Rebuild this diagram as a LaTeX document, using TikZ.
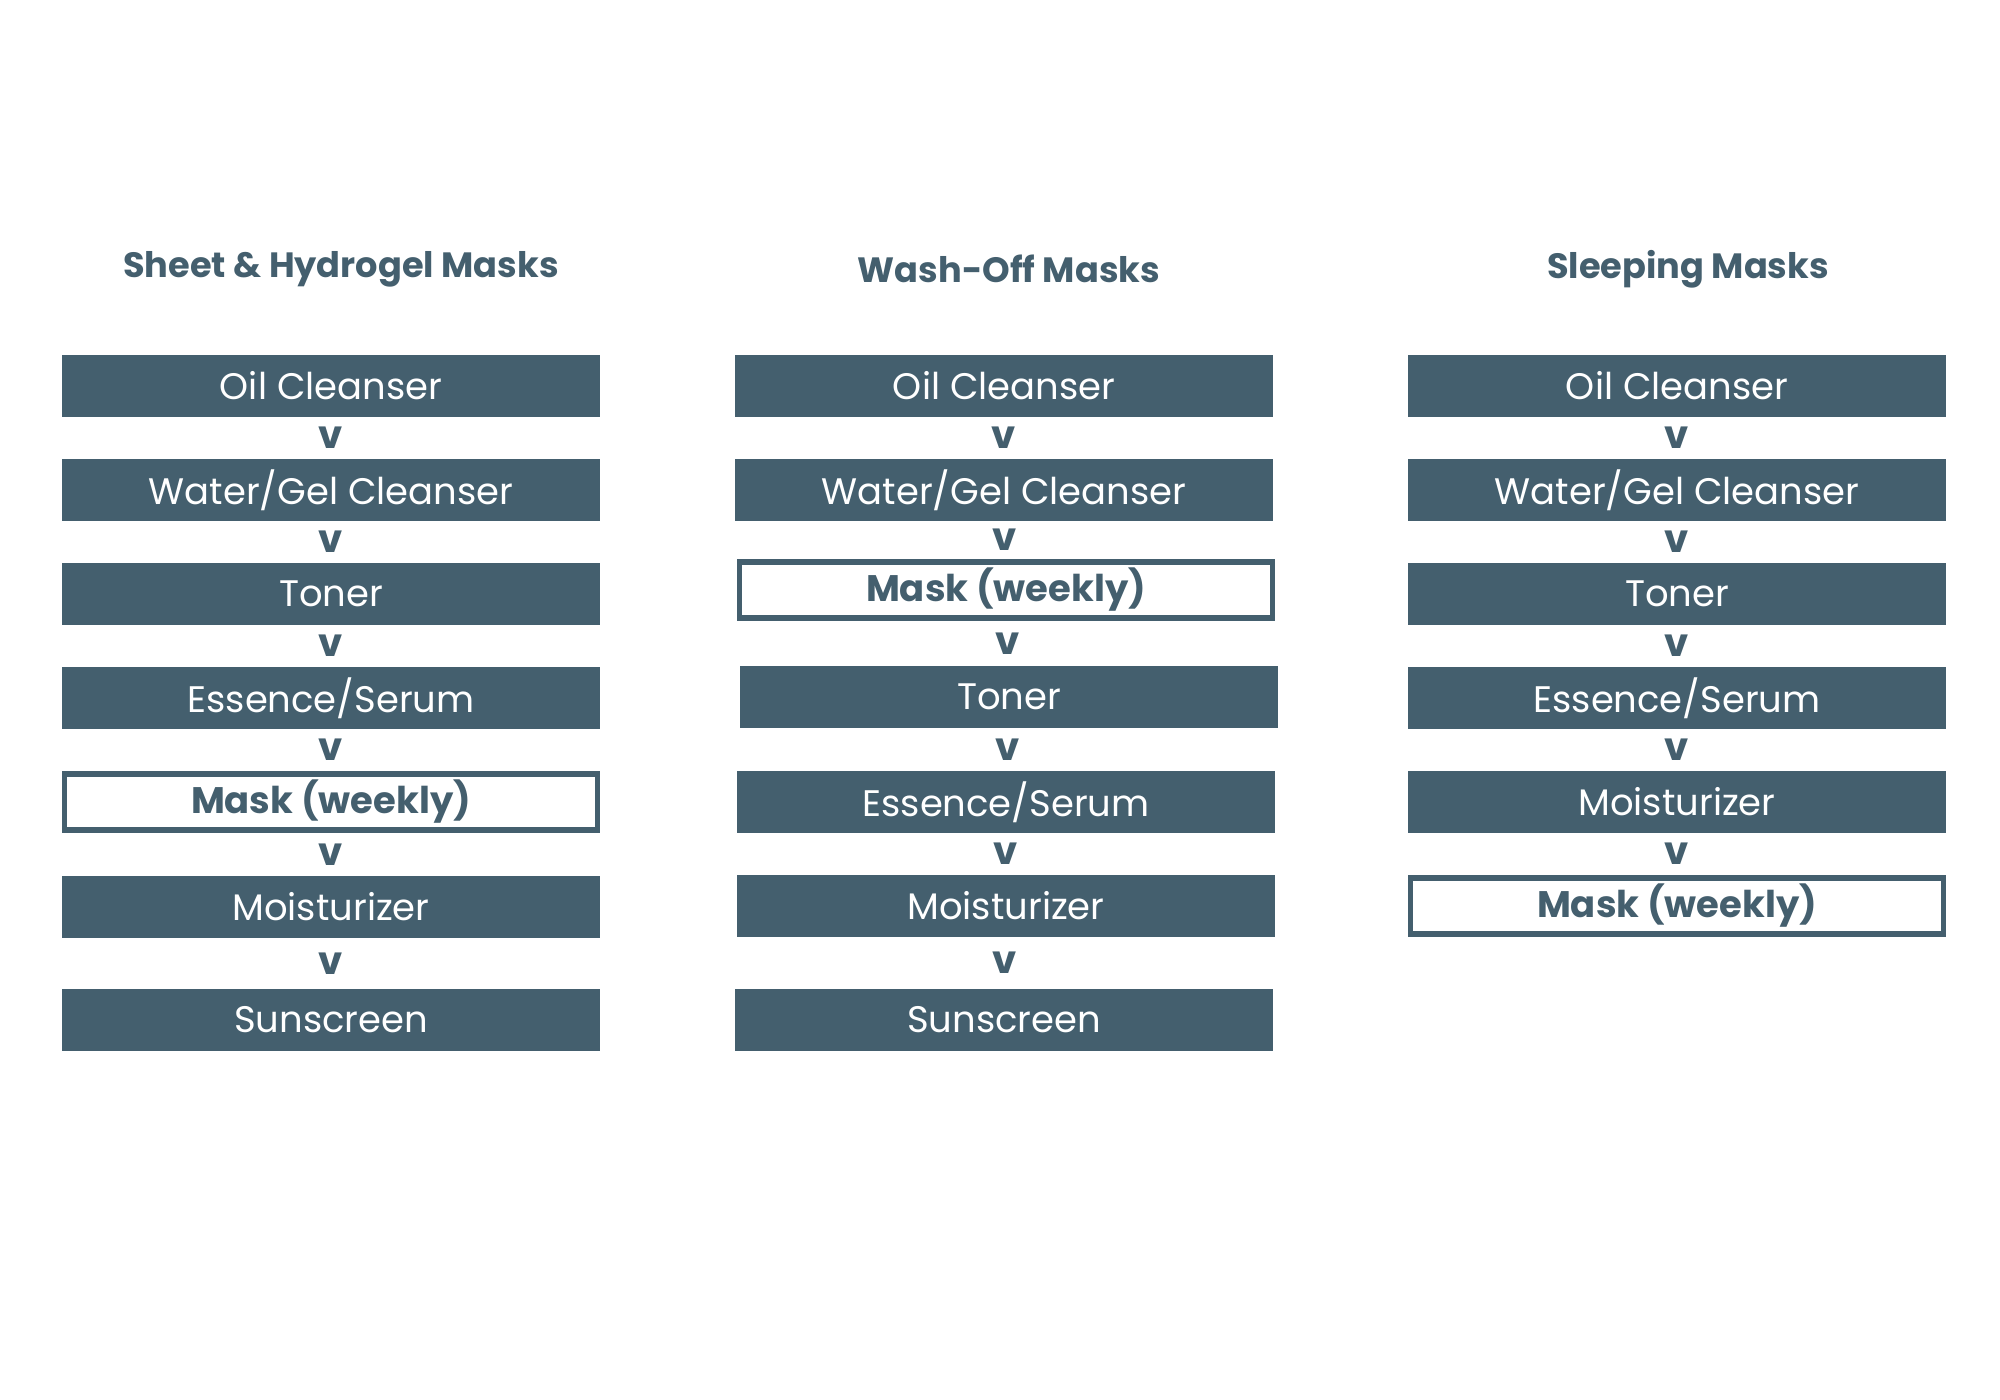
\documentclass[tikz,border=0pt]{standalone}
\usepackage{fontspec}
\setmainfont{Poppins}
\usetikzlibrary{positioning}
\definecolor{slate}{HTML}{445F6E}
\tikzset{
    stepbox/.style={draw=slate, fill=slate, text=white, minimum width=5.37cm, minimum height=0.6cm, inner sep=0pt, font=\fontsize{10.5}{13}\selectfont},
    maskbox/.style={draw=slate, line width=1.6pt, fill=white, text=slate, minimum width=5.33cm, minimum height=0.56cm, inner sep=0pt, font=\bfseries\fontsize{10.5}{13}\selectfont},
    title/.style={text=slate, font=\bfseries\fontsize{10}{12}\selectfont},
    vmark/.style={text=slate, font=\bfseries\fontsize{11}{13}\selectfont}}
\begin{document}
\begin{tikzpicture}[x=0.01cm,y=-0.01cm]
\useasboundingbox (0,0) rectangle (2000,1400);
% titles
\node[title] (t1) at (341,269) {Sheet \& Hydrogel Masks};
\node[title] (t2) at (1009,269) {Wash-Off Masks};
\node[title] (t3) at (1688,269) {Sleeping Masks};

% sheet & hydrogel
\node[stepbox] (a1) at (331,386) {Oil Cleanser};
\node[stepbox] (a2) at (331,490) {Water/Gel Cleanser};
\node[stepbox] (a3) at (331,594) {Toner};
\node[stepbox] (a4) at (331,698) {Essence/Serum};
\node[maskbox] (a5) at (331,802) {Mask (weekly)};
\node[stepbox] (a6) at (331,907) {Moisturizer};
\node[stepbox] (a7) at (331,1020) {Sunscreen};

% wash-off
\node[stepbox] (b1) at (1004,386) {Oil Cleanser};
\node[stepbox] (b2) at (1004,490) {Water/Gel Cleanser};
\node[maskbox] (b3) at (1006,590) {Mask (weekly)};
\node[stepbox] (b4) at (1009,697) {Toner};
\node[stepbox] (b5) at (1006,802) {Essence/Serum};
\node[stepbox] (b6) at (1006,906) {Moisturizer};
\node[stepbox] (b7) at (1004,1020) {Sunscreen};

% sleeping
\node[stepbox] (c1) at (1677,386) {Oil Cleanser};
\node[stepbox] (c2) at (1677,490) {Water/Gel Cleanser};
\node[stepbox] (c3) at (1677,594) {Toner};
\node[stepbox] (c4) at (1677,698) {Essence/Serum};
\node[stepbox] (c5) at (1677,802) {Moisturizer};
\node[maskbox] (c6) at (1677,906) {Mask (weekly)};

\foreach \col/\n in {a/7,b/7,c/6}{
  \foreach \i [evaluate=\i as \j using int(\i+1)] in {1,...,6}{
    \ifnum\i<\n
      \path (\col\i.south) -- node[vmark]{v} (\col\j.north);
    \fi
  }
}
\end{tikzpicture}
\end{document}
